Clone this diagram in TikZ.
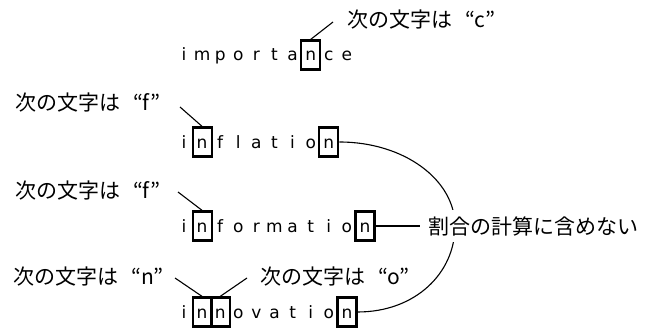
\documentclass[tikz,border=0pt]{standalone}
\usepackage{fontspec}
\setmainfont{Noto Sans CJK JP}
\newfontfamily\rowfont{DejaVu Sans}
\newcommand{\myopenq}{\hspace{13pt}“}
\begin{document}
\begin{tikzpicture}[x=1pt,y=-1pt,
  letter/.style={font=\rowfont\fontsize{17}{17}\selectfont, anchor=base, inner sep=0pt},
  hbox/.style={draw, line width=2.2pt, minimum width=19pt, minimum height=29pt, inner sep=0pt},
  lbl/.style={font=\fontsize{21}{21}\selectfont, anchor=west, inner sep=0pt},
  leader/.style={line width=1.1pt},
  curveline/.style={line width=1.1pt}]
\useasboundingbox (0,0) rectangle (646,329);

% row 1: importance
\foreach \c [count=\i from 0] in {i,m,p,o,r,t,a,n,c,e}
  \node[letter] (a\i) at ({184+18.1*\i},61) {\c};
\node[hbox] (ba) at ({184+18.1*7},55) {};

% row 2: inflation
\foreach \c [count=\i from 0] in {i,n,f,l,a,t,i,o,n}
  \node[letter] (b\i) at ({184+18.1*\i},148) {\c};
\node[hbox] (bb1) at ({184+18.1*1},142) {};
\node[hbox] (bb2) at ({184+18.1*8},142) {};

% row 3: information
\foreach \c [count=\i from 0] in {i,n,f,o,r,m,a,t,i,o,n}
  \node[letter] (c\i) at ({184+18.1*\i},232) {\c};
\node[hbox] (bc1) at ({184+18.1*1},226) {};
\node[hbox] (bc2) at ({184+18.1*10},226) {};

% row 4: innovation
\foreach \c [count=\i from 0] in {i,n,n,o,v,a,t,i,o,n}
  \node[letter] (d\i) at ({184+18.1*\i},318) {\c};
\node[hbox] (bd1) at ({184+18.1*1},312) {};
\node[hbox] (bd2) at ({184+18.1*2},312) {};
\node[hbox] (bd3) at ({184+18.1*9},312) {};

% labels
\node[lbl] (l1) at (347,20) {次の文字は\myopenq c”};
\node[lbl] (l2) at (15,103) {次の文字は\myopenq f”};
\node[lbl] (l3) at (15,191) {次の文字は\myopenq f”};
\node[lbl] (l4) at (13,277) {次の文字は\myopenq n”};
\node[lbl] (l5) at (260,277) {次の文字は\myopenq o”};

% leaders
\coordinate (s1) at (333,22);
\coordinate (s2) at (180,107);
\coordinate (s3) at (178,192);
\coordinate (s4) at (175,278);
\coordinate (s5) at (247,278);
\draw[leader] (s1) -- (ba.north);
\draw[leader] (s2) -- (bb1.north);
\draw[leader] (s3) -- (bc1.north);
\draw[leader] (s4) -- (bd1.north);
\draw[leader] (s5) -- (bd2.north);

% curve
\coordinate (cm) at (455,226);
\draw[curveline] (bb2.east) .. controls +(65,0) and (455,180) .. (cm)
  .. controls (455,273) and +(58,0) .. (bd3.east);

\node[lbl, fill=white, inner xsep=8pt, inner ysep=6pt] (lab) at (420,226) {割合の計算に含めない};
\draw[leader] (bc2.east) -- (lab.west);
\end{tikzpicture}
\end{document}
